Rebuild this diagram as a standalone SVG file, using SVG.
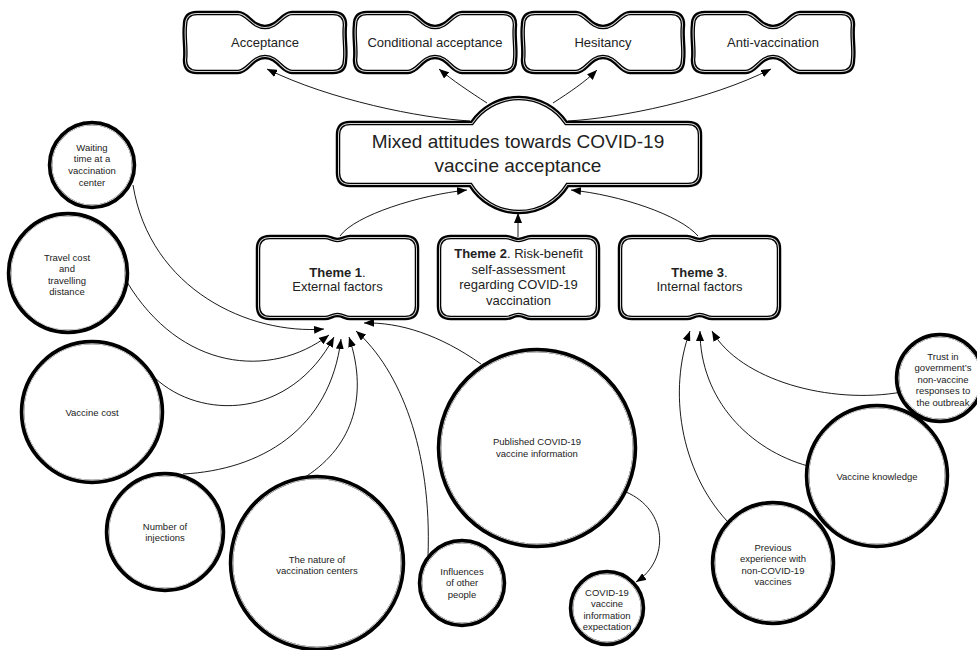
<svg xmlns="http://www.w3.org/2000/svg" xmlns:xlink="http://www.w3.org/1999/xlink" width="977" height="650" viewBox="0 0 977 650">
<style>
text{font-family:"Liberation Sans",Arial,sans-serif;fill:#222;text-anchor:middle}
.t13{font-size:13px}
.t19{font-size:19px}
.t9{font-size:9.5px}
.b{font-weight:bold}
.o{fill:#fff;stroke:#000;stroke-width:4.5}
.i{fill:none;stroke:#d4d4d4;stroke-width:2}
.ci{fill:none;stroke:#d4d4d4;stroke-width:1}
.c{fill:none;stroke:#000;stroke-width:0.9;marker-end:url(#ah)}
</style>
<defs>
<marker id="ah" markerUnits="userSpaceOnUse" markerWidth="10" markerHeight="8" refX="10" refY="4" orient="auto">
<path d="M0,0 L10,4 L0,8 Z" fill="#000"/>
</marker>
<path id="tb" d="M12,0 L53,0 C63,0 67,14 80,14 C93,14 97,0 107,0 L148,0 Q160,0 160,12 C158.5,24 161.5,36 160,47 Q160,59 148,59 L107,59 C97,59 93,44 80,44 C67,44 63,59 53,59 L12,59 Q0,59 0,47 C1.5,36 -1.5,24 0,12 Q0,0 12,0 Z"/>
<path id="th" d="M12,0 L67,0 C72,0 74,3 79.5,3 C85,3 87,0 92,0 L147,0 Q159,0 159,12 L159,69 Q159,81 147,81 L92,81 C87,81 85,78 79.5,78 C74,78 72,81 67,81 L12,81 Q0,81 0,69 L0,12 Q0,0 12,0 Z"/>
<path id="cn" d="M350,123 L471.8,123 A57,57 0 0 1 566.2,123 L688,123 Q700,123 700,135 L700,173 Q700,185 688,185 L567.5,185 A57,57 0 0 1 470.5,185 L350,185 Q338,185 338,173 L338,135 Q338,123 350,123 Z"/>
<clipPath id="ctb"><use xlink:href="#tb"/></clipPath>
<clipPath id="cth"><use xlink:href="#th"/></clipPath>
<clipPath id="ccn"><use xlink:href="#cn"/></clipPath>
</defs>

<g id="connectors">
<path class="c" d="M470,121 C420,118 330,100 267,69"/>
<path class="c" d="M487,103 C470,92 452,80 439,69"/>
<path class="c" d="M553,103 C570,92 585,82 597,70"/>
<path class="c" d="M568,121 C620,118 710,100 771,69"/>
<path class="c" d="M340,236 C355,215 420,195 467,190"/>
<path class="c" d="M518,237 L518,213"/>
<path class="c" d="M698,236 C680,215 620,195 571,190"/>
<path class="c" d="M133,185 C150,290 250,335 324,329"/>
<path class="c" d="M127,282 C180,370 270,380 329,335"/>
<path class="c" d="M155,378 C200,420 290,420 334,337"/>
<path class="c" d="M183,474 C260,470 330,430 341,339"/>
<path class="c" d="M302,479 C350,450 370,400 349,337"/>
<path class="c" d="M428,556 C432,450 400,370 356,331"/>
<path class="c" d="M481,364 C440,335 400,322 364,323"/>
<path class="c" d="M626,492 C668,510 670,560 636,582"/>
<path class="c" d="M727,521 C680,470 668,390 690,331"/>
<path class="c" d="M808,466 C750,450 700,400 700,331"/>
<path class="c" d="M902,392 C830,405 740,380 712,331"/>
</g>

<g id="acceptance" transform="translate(185,13)">
<use xlink:href="#tb" class="o"/><use xlink:href="#tb" class="i" clip-path="url(#ctb)"/>
<text class="t13" x="80" y="33.5">Acceptance</text>
</g>
<g id="conditional-acceptance" transform="translate(355,13)">
<use xlink:href="#tb" class="o"/><use xlink:href="#tb" class="i" clip-path="url(#ctb)"/>
<text class="t13" x="80" y="33.5">Conditional acceptance</text>
</g>
<g id="hesitancy" transform="translate(523,13)">
<use xlink:href="#tb" class="o"/><use xlink:href="#tb" class="i" clip-path="url(#ctb)"/>
<text class="t13" x="80" y="33.5">Hesitancy</text>
</g>
<g id="anti-vaccination" transform="translate(693,13)">
<use xlink:href="#tb" class="o"/><use xlink:href="#tb" class="i" clip-path="url(#ctb)"/>
<text class="t13" x="80" y="33.5">Anti-vaccination</text>
</g>

<g id="mixed-attitudes">
<use xlink:href="#cn" class="o"/><use xlink:href="#cn" class="i" clip-path="url(#ccn)"/>
<text class="t19" x="518" y="148">Mixed attitudes towards COVID-19</text>
<text class="t19" x="518" y="172">vaccine acceptance</text>
</g>

<g id="theme1" transform="translate(258,237)">
<use xlink:href="#th" class="o"/><use xlink:href="#th" class="i" clip-path="url(#cth)"/>
<text class="t13" x="79.5" y="40"><tspan class="b">Theme 1</tspan>.</text>
<text class="t13" x="79.5" y="54">External factors</text>
</g>
<g id="theme2" transform="translate(439,237)">
<use xlink:href="#th" class="o"/><use xlink:href="#th" class="i" clip-path="url(#cth)"/>
<text class="t13" x="79.5" y="21"><tspan class="b">Theme 2</tspan>. Risk-benefit</text>
<text class="t13" x="79.5" y="36.5">self-assessment</text>
<text class="t13" x="79.5" y="52">regarding COVID-19</text>
<text class="t13" x="79.5" y="67.5">vaccination</text>
</g>
<g id="theme3" transform="translate(620,237)">
<use xlink:href="#th" class="o"/><use xlink:href="#th" class="i" clip-path="url(#cth)"/>
<text class="t13" x="79.5" y="40"><tspan class="b">Theme 3</tspan>.</text>
<text class="t13" x="79.5" y="54">Internal factors</text>
</g>

<g id="waiting-time">
<circle class="o" cx="92" cy="165" r="42"/><circle class="ci" cx="92" cy="165" r="40.2"/>
<text class="t9" x="92" y="150.5">Waiting</text>
<text class="t9" x="92" y="162.2">time at a</text>
<text class="t9" x="92" y="173.9">vaccination</text>
<text class="t9" x="92" y="185.6">center</text>
</g>
<g id="travel-cost">
<circle class="o" cx="68" cy="273" r="59"/><circle class="ci" cx="68" cy="273" r="57.2"/>
<text class="t9" x="67" y="260.5">Travel cost</text>
<text class="t9" x="67" y="272">and</text>
<text class="t9" x="67" y="283.5">travelling</text>
<text class="t9" x="67" y="295">distance</text>
</g>
<g id="vaccine-cost">
<circle class="o" cx="92" cy="412" r="70"/><circle class="ci" cx="92" cy="412" r="68.2"/>
<text class="t9" x="92" y="415.5">Vaccine cost</text>
</g>
<g id="number-of-injections">
<circle class="o" cx="165" cy="532" r="58"/><circle class="ci" cx="165" cy="532" r="56.2"/>
<text class="t9" x="165" y="529.5">Number of</text>
<text class="t9" x="165" y="541">injections</text>
</g>
<g id="nature-of-centers">
<circle class="o" cx="317" cy="563" r="86"/><circle class="ci" cx="317" cy="563" r="84.2"/>
<text class="t9" x="317" y="562.5">The nature of</text>
<text class="t9" x="317" y="574">vaccination centers</text>
</g>
<g id="influences">
<circle class="o" cx="462" cy="583" r="42"/><circle class="ci" cx="462" cy="583" r="40.2"/>
<text class="t9" x="462" y="574.5">Influences</text>
<text class="t9" x="462" y="586">of other</text>
<text class="t9" x="462" y="597.5">people</text>
</g>
<g id="published-info">
<circle class="o" cx="537" cy="448" r="98"/><circle class="ci" cx="537" cy="448" r="96.2"/>
<text class="t9" x="537" y="444.5">Published COVID-19</text>
<text class="t9" x="537" y="456.5">vaccine information</text>
</g>
<g id="info-expectation">
<circle class="o" cx="607" cy="608" r="36"/><circle class="ci" cx="607" cy="608" r="34.2"/>
<text class="t9" x="607" y="595.5">COVID-19</text>
<text class="t9" x="607" y="607">vaccine</text>
<text class="t9" x="607" y="618.5">information</text>
<text class="t9" x="607" y="630">expectation</text>
</g>
<g id="trust-government">
<circle class="o" cx="940" cy="378" r="43"/><circle class="ci" cx="940" cy="378" r="41.2"/>
<text class="t9" x="943" y="359.5">Trust in</text>
<text class="t9" x="943" y="371">government’s</text>
<text class="t9" x="943" y="382.5">non-vaccine</text>
<text class="t9" x="943" y="394">responses to</text>
<text class="t9" x="943" y="405.5">the outbreak</text>
</g>
<g id="vaccine-knowledge">
<circle class="o" cx="877" cy="476" r="70"/><circle class="ci" cx="877" cy="476" r="68.2"/>
<text class="t9" x="877" y="479.5">Vaccine knowledge</text>
</g>
<g id="previous-experience">
<circle class="o" cx="773" cy="563" r="60"/><circle class="ci" cx="773" cy="563" r="58.2"/>
<text class="t9" x="773" y="550.5">Previous</text>
<text class="t9" x="773" y="562">experience with</text>
<text class="t9" x="773" y="573.5">non-COVID-19</text>
<text class="t9" x="773" y="585">vaccines</text>
</g>
</svg>
